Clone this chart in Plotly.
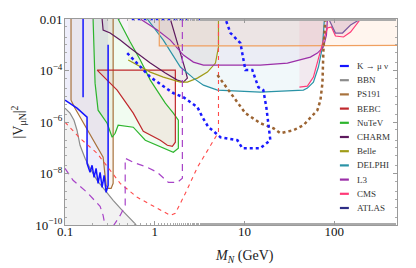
import plotly.graph_objects as go
import math

# ---------------- data (M_N in GeV, |V_muN|^2) ----------------
bbn_m = [0.100, 0.1137, 0.126, 0.1361, 0.1471, 0.1672, 0.1902, 0.2278, 0.280, 0.344, 0.434, 0.606, 0.66]
bbn_v = [3.44e-6, 2.2e-6, 1.17e-6, 4.8e-7, 1.25e-7, 3.9e-8, 1.59e-8, 5.44e-9, 2.22e-9, 9.06e-10, 3.7e-10, 1.1e-10, 7e-11]

kmu_m = [0.1, 0.1137, 0.1361, 0.176, 0.176, 0.1902, 0.2003, 0.2109, 0.222, 0.2337, 0.2461, 0.2591, 0.2728, 0.2872, 0.3023, 0.3023]
kmu_v = [7.05e-6, 5.4e-6, 3.44e-6, 1.54e-6, 2.49e-8, 1.11e-8, 2.08e-8, 7.11e-9, 1.59e-8, 4.15e-9, 1.11e-8, 2.9e-9, 8.5e-9, 1.86e-9, 3.47e-9, 1.0e-3]
kmu2_m = [0.159, 0.159]
kmu2_v = [1e-2, 9.2e-6]

ps191_m = [0.1167, 0.1167, 0.1293, 0.1902, 0.2658, 0.2872, 0.3023, 0.3266, 0.3438, 0.3438]
ps191_v = [1e-2, 7.05e-6, 3.44e-6, 3.1e-7, 4.27e-8, 3.47e-9, 2.65e-9, 2.65e-9, 4.15e-9, 1e-2]

bebc_m = [0.2278, 1.696, 1.696, 1.570, 1.381, 1.153, 0.745, 0.576, 0.381, 0.2278]
bebc_v = [1.04e-4, 1.04e-4, 1.64e-7, 1.14e-7, 1.25e-7, 1.96e-7, 4.39e-7, 2.2e-6, 1.73e-5, 1.04e-4]

nutev_m = [0.2055, 0.2163, 0.2337, 0.2946, 0.3351, 0.362, 0.391, 0.576, 0.7843, 1.246, 1.611, 1.832,
           1.832, 1.611, 1.311, 0.8919, 0.6897, 0.5328, 0.391]
nutev_v = [1e-2, 3.23e-5, 2.88e-6, 8.98e-7, 2.56e-7, 3.66e-7, 7.5e-7, 6.28e-7, 1.96e-7, 9.57e-8, 6.68e-8, 9.57e-8,
           1.17e-6, 2.2e-6, 5.39e-6, 4.23e-5, 2.54e-4, 1.27e-3, 1e-2]

charm_m = [0.259, 0.2658, 0.3183, 0.4117, 0.5328, 0.8919, 1.311, 1.786, 2.084, 2.31, 2.194, 2.031, 1.786, 1.491]
charm_v = [1e-2, 3.73e-3, 2.85e-3, 1.52e-3, 7.44e-4, 1.94e-4, 7.92e-5, 4.23e-5, 3.54e-5, 5.06e-5, 1.04e-4, 2.54e-4, 1.16e-3, 1e-2]

belle_m = [0.506, 0.8919, 1.246, 1.929, 2.31, 2.988, 3.864, 4.747, 5.128, 5.128]
belle_v = [2.54e-4, 8.67e-5, 5.53e-5, 3.54e-5, 3.54e-5, 5.06e-5, 8.67e-5, 1.94e-4, 8.14e-4, 1e-2]

delphi_m = [0.8258, 1.246, 1.929, 2.695, 3.486, 4.998, 15.0, 45.3, 50.2, 58.6, 66.6, 73.8, 77.7]
delphi_v = [1e-2, 1.52e-3, 1.36e-4, 5.06e-5, 2.7e-5, 1.73e-5, 1.44e-5, 1.73e-5, 2.07e-5, 3.54e-5, 1.36e-4, 8.14e-4, 1e-2]

l3_m = [0.6897, 1.068, 1.491, 2.084, 2.695, 3.486, 5.83, 15.0, 30.07, 41.95, 54.22, 64.91, 75.73, 81.8, 83.93]
l3_v = [1e-2, 3.73e-3, 1.52e-3, 3.97e-4, 2.12e-4, 1.62e-4, 1.62e-4, 1.62e-4, 1.94e-4, 2.54e-4, 3.32e-4, 4.75e-4, 8.14e-4, 2.38e-3, 1e-2]

cms_m = [40.89, 50.2, 58.57, 66.6, 75.73, 83.93, 93.0, 103.1, 126.8, 151.9, 182.2, 196.8]
cms_v = [2.26e-5, 2.47e-5, 5.53e-5, 3.32e-4, 1.52e-3, 4.47e-3, 4.89e-3, 2.18e-3, 2.0e-3, 3.12e-3, 6.98e-3, 1e-2]

atlas_m = [86.8, 103.1, 123.6, 151.9, 196.8]
atlas_v = [1e-2, 2.85e-3, 2.85e-3, 5.84e-3, 1e-2]

ewpd_m = [1.123, 1.123, 20.0, 80.0, 500.0]
ewpd_v = [1e-2, 9.0e-4, 9.0e-4, 9.2e-4, 9.5e-4]

bdot_m = [0.4933, 0.6897, 0.8919, 1.611, 2.084, 2.988, 3.398, 3.965, 4.394, 5.397, 8.333, 9.474, 15.0, 19.4,
          18.43, 17.5, 16.2, 14.25, 12.22, 10.23, 9.0, 6.98, 6.138, 0.5328]
bdot_v = [4.75e-4, 1.36e-4, 5.53e-5, 1.32e-5, 9.2e-6, 3.77e-6, 1.54e-6, 6.28e-7, 4.8e-7, 2.56e-7, 1.96e-7, 9.57e-8,
          9.57e-8, 1.96e-7, 8.98e-7, 3.77e-6, 1.73e-5, 2.26e-5, 1.04e-4, 1.04e-4, 1.16e-3, 2.85e-3, 1e-2, 1e-2]

brdot_m = [4.998, 6.98, 10.23, 15.0, 17.96, 20.95, 25.07, 35.07, 45.32, 58.57, 64.91, 70.11, 73.81, 75.73, 77.7, 79.73]
brdot_v = [6.62e-5, 1.32e-5, 2.2e-6, 8.98e-7, 6.87e-7, 5.74e-7, 3.66e-7, 4.8e-7, 7.5e-7, 1.84e-6, 2.88e-6, 7.05e-6,
           3.23e-5, 6.22e-4, 2.85e-3, 1e-2]

rdash_m = [0.1, 0.1471, 0.2278, 0.3183, 0.4117, 0.6385, 1.153, 1.491, 1.696, 2.194, 2.988, 4.174, 5.128, 5.128]
rdash_v = [9.8e-7, 2.34e-7, 6.11e-8, 1.33e-8, 4.15e-9, 1.19e-9, 3.7e-10, 2.36e-10, 2.83e-10, 1.7e-9, 1.74e-8,
           1.25e-7, 4.0e-7, 1e-2]

pdash1_m = [0.1, 0.1229, 0.176, 0.2461, 0.2658, 0.28]
pdash1_v = [1.59e-8, 5.44e-9, 1.86e-9, 5.3e-10, 2.36e-10, 9e-11]
pdash2_m = [0.344, 0.4117, 0.4685, 0.4685, 0.576, 0.8258, 1.068, 1.417, 1.786, 2.031, 2.031]
pdash2_v = [9e-11, 2.36e-10, 5.79e-10, 3.9e-8, 2.73e-8, 1.74e-8, 1.11e-8, 4.54e-9, 4.54e-9, 6.5e-9, 1e-2]

legend_names = ["K \u2192 \u03bc \u03bd", "BBN", "PS191", "BEBC", "NuTeV", "CHARM", "Belle", "DELPHI", "L3", "CMS", "ATLAS"]
legend_colors = ["#1414ff", "#8c8c8c", "#a8723c", "#c0282c", "#2db52d", "#5e1a5e", "#a09c18", "#2a93a6", "#9b2fa8", "#ff3a78", "#2e2e86"]

x_tick_vals = [0.1, 1, 10, 100]
x_tick_text = ["0.1", "1", "10", "100"]
y_tick_vals = [1e-2, 1e-4, 1e-6, 1e-8, 1e-10]
y_tick_text = ["0.01", "10<sup>\u22124</sup>", "10<sup>\u22126</sup>", "10<sup>\u22128</sup>", "10<sup>\u221210</sup>"]

# ---------------- figure ----------------
fig = go.Figure()
col = dict(zip(["K", "BBN", "PS191", "BEBC", "NuTeV", "CHARM", "Belle", "DELPHI", "L3", "CMS", "ATLAS"], legend_colors))


def add_fill(xs, ys, rgba):
    fig.add_trace(go.Scatter(x=xs, y=ys, fill="toself", fillcolor=rgba, mode="lines",
                             line=dict(width=0), hoverinfo="skip", showlegend=False))


def add_line(xs, ys, color, width=1.2, dash="solid"):
    fig.add_trace(go.Scatter(x=xs, y=ys, mode="lines", line=dict(color=color, width=width, dash=dash),
                             hoverinfo="skip", showlegend=False))


# fills
add_fill(bbn_m + [0.7, 0.1], bbn_v + [5e-11, 5e-11], "rgba(0,0,0,0.05)")
add_fill([0.1] + kmu_m + [0.3023, 0.1], [1e-2] + kmu_v + [1e-2, 1e-2], "rgba(90,90,220,0.10)")
add_fill(ps191_m, ps191_v, "rgba(170,110,50,0.07)")
add_fill(nutev_m, nutev_v, "rgba(60,210,60,0.07)")
add_fill(bebc_m, bebc_v, "rgba(220,50,50,0.08)")
add_fill(charm_m, charm_v, "rgba(120,40,120,0.06)")
add_fill(belle_m + [0.506], belle_v + [1e-2], "rgba(150,150,40,0.06)")
add_fill(delphi_m, delphi_v, "rgba(50,160,190,0.07)")
add_fill(l3_m, l3_v, "rgba(150,60,170,0.06)")
add_fill(ewpd_m + [500.0], ewpd_v + [1e-2], "rgba(250,140,70,0.09)")
add_fill([40.89] + cms_m, [1e-2] + cms_v, "rgba(255,60,120,0.08)")
add_fill(atlas_m, atlas_v, "rgba(60,60,140,0.10)")

# lines
add_line(bbn_m, bbn_v, col["BBN"])
add_line(ps191_m, ps191_v, col["PS191"])
add_line(nutev_m, nutev_v, col["NuTeV"])
add_line(bebc_m, bebc_v, col["BEBC"])
add_line(charm_m, charm_v, col["CHARM"])
add_line(belle_m, belle_v, col["Belle"])
add_line(delphi_m, delphi_v, col["DELPHI"])
add_line(l3_m, l3_v, col["L3"])
add_line(ewpd_m, ewpd_v, "#f0a060")
add_line(cms_m, cms_v, col["CMS"])
add_line(atlas_m, atlas_v, "#7a5a9e")
add_line(kmu_m, kmu_v, col["K"], 1.5)
add_line(kmu2_m, kmu2_v, col["K"], 1.5)
add_line(rdash_m, rdash_v, "#ff4a4a", 1.1, "4px,4px")
add_line(pdash1_m, pdash1_v, "#a844c8", 1.2, "7px,5px")
add_line(pdash2_m, pdash2_v, "#a844c8", 1.2, "7px,5px")
add_line(brdot_m, brdot_v, "#9c6432", 2.5, "dot")
add_line(bdot_m, bdot_v, "#1a1aff", 2.5, "dot")

# plot area geometry (figure pixels); the page body adds an 8px offset
ML, MR, MT, MB = 57, 19, 11, 43
W, H = 408, 260
PH = H - MT - MB

# custom legend
x0p, x1p, xtp = 0.828, 0.855, 0.872
annotations = []
shapes = []
for i, (name, c) in enumerate(zip(legend_names, legend_colors)):
    py = 58 + 14.2 * i
    yp = (MT + PH - py) / PH
    shapes.append(dict(type="line", xref="paper", yref="paper", x0=x0p, x1=x1p, y0=yp, y1=yp,
                       line=dict(color=c, width=2.2)))
    annotations.append(dict(xref="paper", yref="paper", x=xtp, y=yp, text=name, showarrow=False,
                            xanchor="left", yanchor="middle",
                            font=dict(family="Liberation Serif", size=9, color="#333")))

annotations.append(dict(xref="paper", yref="paper", x=0.542, y=-0.152,
                        text="<i>M</i><sub><i>N</i></sub> (GeV)", showarrow=False,
                        xanchor="center", yanchor="middle",
                        font=dict(family="Liberation Serif", size=14, color="#222")))
annotations.append(dict(xref="paper", yref="paper", x=-0.14, y=0.5,
                        text="|V<sub>\u03bcN</sub>|<sup>2</sup>", showarrow=False, textangle=-90,
                        xanchor="center", yanchor="middle",
                        font=dict(family="Liberation Serif", size=14, color="#222")))

axis_common = dict(showline=True, linecolor="#9a9a9a", linewidth=1, mirror="ticks", ticks="inside",
                   ticklen=4, tickcolor="#9a9a9a", showgrid=False, zeroline=False, automargin=False,
                   tickfont=dict(family="Liberation Serif", size=13, color="#111"),
                   minor=dict(ticks="inside", ticklen=2, tickcolor="#aaaaaa", showgrid=False))

fig.update_layout(
    template="none",
    width=W, height=H,
    margin=dict(l=ML, r=MR, t=MT, b=MB, autoexpand=False),
    paper_bgcolor="white", plot_bgcolor="white",
    showlegend=False,
    xaxis=dict(type="log", range=[-1, math.log10(500)], tickvals=x_tick_vals, ticktext=x_tick_text,
               ticklabelstandoff=-6, **axis_common),
    yaxis=dict(type="log", range=[-10, -2], tickvals=y_tick_vals, ticktext=y_tick_text,
               ticklabelstandoff=-1, **axis_common),
    shapes=shapes, annotations=annotations,
)

fig.write_html("out.html")
